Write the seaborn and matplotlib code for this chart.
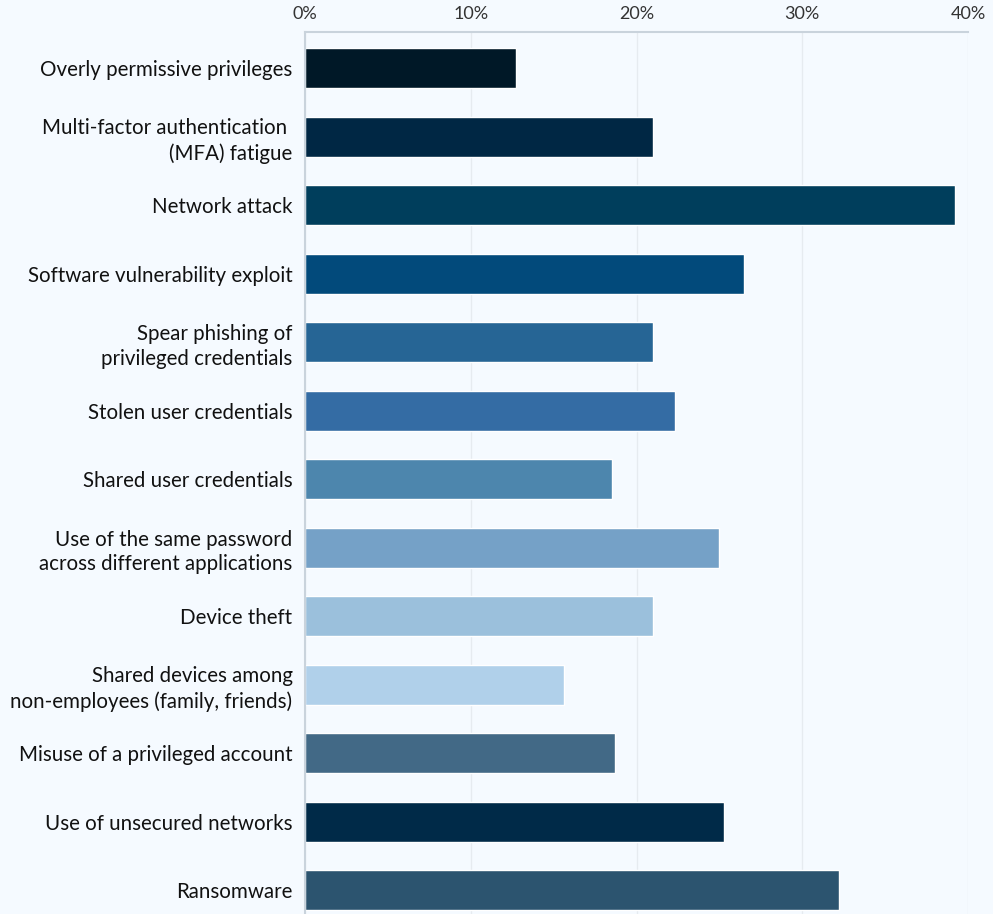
import matplotlib
matplotlib.use("Agg")
import matplotlib.pyplot as plt
import seaborn as sns
import pandas as pd
from matplotlib.ticker import FuncFormatter

categories = [
    "Overly permissive privileges",
    "Multi-factor authentication \n(MFA) fatigue",
    "Network attack",
    "Software vulnerability exploit",
    "Spear phishing of\nprivileged credentials",
    "Stolen user credentials",
    "Shared user credentials",
    "Use of the same password\nacross different applications",
    "Device theft",
    "Shared devices among\nnon-employees (family, friends)",
    "Misuse of a privileged account",
    "Use of unsecured networks",
    "Ransomware",
]
values = [12.7, 21.0, 39.2, 26.5, 21.0, 22.3, 18.5, 25.0, 21.0, 15.6, 18.7, 25.3, 32.2]
colors = ["#001827", "#002744", "#003e5c", "#024a7b", "#266595", "#346ca4",
          "#4d86ad", "#75a1c7", "#9bc0dc", "#b0d0ea", "#426986", "#002a48", "#2c546f"]
xticks = [0, 10, 20, 30, 40]

bg = "#f5faff"
sns.set_theme(style="white")
plt.rcParams["font.family"] = ["Lato", "DejaVu Sans"]

df = pd.DataFrame({"category": categories, "value": values})

fig = plt.figure(figsize=(9.93, 9.14), dpi=100, facecolor=bg)
ax = fig.add_axes([305 / 993, 0, (968 - 305) / 993, (914 - 32) / 914])
ax.set_facecolor(bg)

sns.barplot(data=df, x="value", y="category", hue="category", palette=colors,
            legend=False, width=0.584, saturation=1, ax=ax, orient="h")

ax.set_xlim(0, 40)
ax.set_ylim(12.35, -0.53)
ax.set_xticks(xticks)
ax.xaxis.set_major_formatter(FuncFormatter(lambda v, p: f"{int(v)}%"))
ax.xaxis.tick_top()
ax.tick_params(axis="x", length=0, pad=7, labelsize=13, labelcolor="#333333")
ax.tick_params(axis="y", length=0, pad=9, labelsize=14.8, labelcolor="#111111")
for lab in ax.get_yticklabels():
    lab.set_horizontalalignment("right")
    lab.set_multialignment("right")
    lab.set_linespacing(1.28)
ax.set_xlabel("")
ax.set_ylabel("")
ax.grid(axis="x", color="#e6ebf0", linewidth=1)
ax.set_axisbelow(True)
for s in ["right", "bottom"]:
    ax.spines[s].set_visible(False)
ax.spines["left"].set_color("#c9d3dc")
ax.spines["top"].set_color("#c9d3dc")
ax.spines["left"].set_linewidth(1.5)
ax.spines["top"].set_linewidth(1.5)

fig.savefig("out.png", dpi=100, facecolor=bg)
